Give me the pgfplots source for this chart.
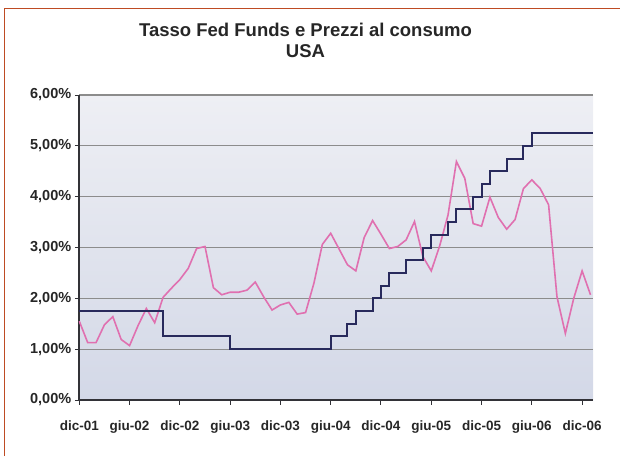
\documentclass[border=0pt]{standalone}
\usepackage{fontspec}
\setmainfont{Liberation Sans}
\usepackage{pgfplots}
\pgfplotsset{compat=1.18}

\definecolor{frame}{RGB}{190,75,35}
\definecolor{bgtop}{RGB}{238,239,244}
\definecolor{bgbot}{RGB}{211,216,231}
\definecolor{gridc}{RGB}{140,140,140}
\definecolor{axisc}{RGB}{50,50,55}
\definecolor{fed}{RGB}{40,42,92}
\definecolor{cpi}{RGB}{224,112,176}

\begin{document}
\begin{tikzpicture}
\path[use as bounding box] (0pt,0pt) rectangle (620pt,456pt);
% cornice parziale
\draw[frame, line width=1.6pt] (4.5pt,0pt) -- (4.5pt,447.5pt) -- (620pt,447.5pt);

\node[font=\bfseries\fontsize{18.5}{20}\selectfont, text=black!85] at (305.5pt,426pt) {Tasso Fed Funds e Prezzi al consumo};
\node[font=\bfseries\fontsize{18.5}{20}\selectfont, text=black!85] at (305.5pt,405pt) {USA};

\begin{axis}[
    at={(79.3pt,56pt)}, anchor=south west,
    scale only axis,
    width=513.7pt, height=305pt,
    xmin=0, xmax=61.3,
    ymin=0, ymax=6,
    axis lines*=left,
    axis line style={axisc, line width=1.8pt},
    axis background/.style={top color=bgtop, bottom color=bgbot},
    ytick={0,1,2,3,4,5,6},
    yticklabels={{0,00\%},{1,00\%},{2,00\%},{3,00\%},{4,00\%},{5,00\%},{6,00\%}},
    xtick={0,6,12,18,24,30,36,42,48,54,60},
    xticklabels={dic-01,giu-02,dic-02,giu-03,dic-03,giu-04,dic-04,giu-05,dic-05,giu-06,dic-06},
    ymajorgrids,
    grid style={gridc, line width=1.3pt},
    tick align=outside,
    major tick length=4.5pt,
    tick style={axisc, line width=1pt},
    yticklabel style={font=\bfseries\fontsize{14.5}{16}\selectfont, text=black!85},
    xticklabel style={font=\bfseries\fontsize{13.5}{15}\selectfont, text=black!85, yshift=-13pt},
    clip=false,
]

% prezzi al consumo
\addplot[cpi, line width=1.6pt] coordinates {
    (0,1.55) (1,1.13) (2,1.13) (3,1.48) (4,1.64) (5,1.19) (6,1.07) (7,1.46)
    (8,1.80) (9,1.52) (10,2.02) (11,2.20) (12,2.37) (13,2.59) (14,2.98) (15,3.02)
    (16,2.21) (17,2.07) (18,2.12) (19,2.12) (20,2.16) (21,2.32) (22,2.03) (23,1.77)
    (24,1.87) (25,1.92) (26,1.69) (27,1.72) (28,2.30) (29,3.06) (30,3.28) (31,2.97)
    (32,2.66) (33,2.54) (34,3.20) (35,3.53) (36,3.26) (37,2.98) (38,3.02) (39,3.15)
    (40,3.51) (41,2.82) (42,2.54) (43,3.03) (44,3.64) (45,4.69) (46,4.36) (47,3.47)
    (48,3.42) (49,3.99) (50,3.59) (51,3.36) (52,3.55) (53,4.16) (54,4.33) (55,4.16)
    (56,3.84) (57,2.03) (58,1.31) (59,2.00) (60,2.54) (61,2.07)
};

% tasso fed funds
\addplot[fed, line width=2pt, const plot] coordinates {
    (0,1.75) (10,1.25) (18,1.00) (30,1.25) (32,1.50) (33,1.75) (35,2.00)
    (36,2.25) (37,2.50) (39,2.75) (41,3.00) (42,3.25) (44,3.50) (45,3.75)
    (47,4.00) (48,4.25) (49,4.50) (51,4.75) (53,5.00) (54,5.25) (61.3,5.25)
};

\end{axis}
\end{tikzpicture}
\end{document}
